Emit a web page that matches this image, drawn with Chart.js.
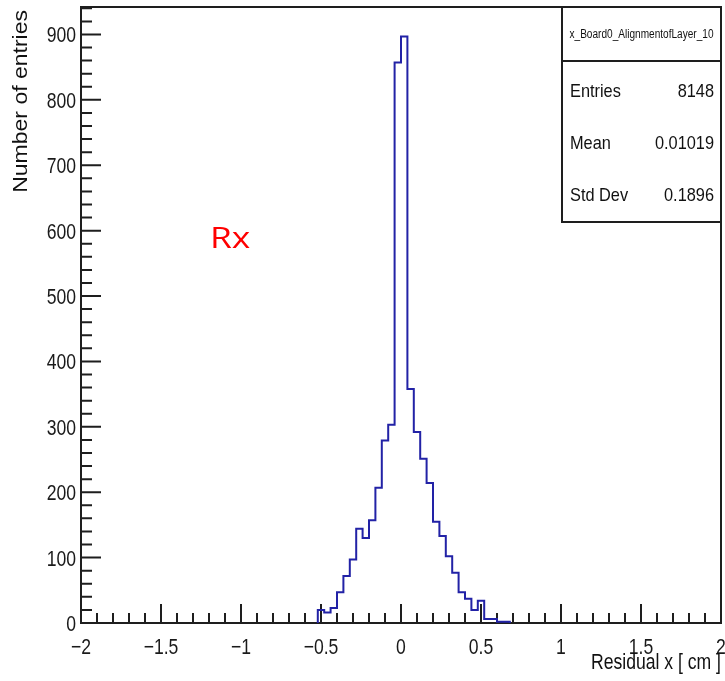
<!DOCTYPE html>
<html>
<head>
<meta charset="utf-8">
<script src="https://cdn.jsdelivr.net/npm/chart.js@4.4.1/dist/chart.umd.min.js"></script>
<style>
  html, body { margin: 0; padding: 0; background: #fff; }
</style>
</head>
<body>
<canvas id="residualChart" width="725" height="681"></canvas>
<script>
// histogram bins (width 0.04, first bin starts at -0.52)
const binLow = -0.52;
const binWidth = 0.04;
const binCounts = [20, 16, 23, 47, 72, 97, 144, 130, 157, 207, 279, 303, 857, 897,
                   358, 292, 251, 214, 155, 133, 102, 77, 47, 37, 20, 34, 6, 6, 2, 2];

const xTicks = [-2, -1.5, -1, -0.5, 0, 0.5, 1, 1.5, 2];
const yTicks = [0, 100, 200, 300, 400, 500, 600, 700, 800, 900];

const histName = 'x_Board0_AlignmentofLayer_10';
const statLabels = ['Entries', 'Mean', 'Std Dev'];
const statValues = ['8148', '0.01019', '0.1896'];

const sans = '"Liberation Sans", Arial, sans-serif';

// outline points: step up at each bin's left edge, back to 0 after the last bin
const points = [{ x: binLow, y: 0 }];
binCounts.forEach((c, i) => points.push({ x: binLow + i * binWidth, y: c }));
points.push({ x: binLow + binCounts.length * binWidth, y: 0 });

// text drawn a bit condensed, like the ROOT canvas export
function squeezed(ctx, text, x, y, align, sx) {
  ctx.save();
  ctx.translate(x, y);
  ctx.scale(sx, 1);
  ctx.textAlign = align;
  ctx.fillText(text, 0, 0);
  ctx.restore();
}

const fmt = v => String(v).replace('-', '\u2212');

// ROOT style frame with inward ticks, labels and stats box
const rootStyle = {
  id: 'rootStyle',
  beforeDatasetsDraw(chart) {
    const { ctx, chartArea: a, scales: { x, y } } = chart;
    ctx.save();
    ctx.strokeStyle = '#1e1e1e';
    ctx.lineWidth = 2;
    ctx.beginPath();
    for (let i = 0; i <= 40; i++) {
      const px = x.getPixelForValue(-2 + i * 0.1);
      const len = i % 5 === 0 ? 19 : 10;
      ctx.moveTo(px, a.bottom);
      ctx.lineTo(px, a.bottom - len);
    }
    for (let v = 0; v <= y.max; v += 20) {
      const py = y.getPixelForValue(v);
      const len = v % 100 === 0 ? 20 : 11;
      ctx.moveTo(a.left, py);
      ctx.lineTo(a.left + len, py);
    }
    ctx.stroke();
    ctx.strokeRect(a.left, a.top, a.right - a.left, a.bottom - a.top);

    // tick labels
    ctx.fillStyle = '#1a1a1a';
    ctx.font = '22px ' + sans;
    ctx.textBaseline = 'alphabetic';
    x.ticks.forEach(t => {
      squeezed(ctx, fmt(t.value), x.getPixelForValue(t.value), a.bottom + 31, 'center', 0.8);
    });
    y.ticks.forEach(t => {
      squeezed(ctx, fmt(t.value), a.left - 5, y.getPixelForValue(t.value) + 8, 'right', 0.8);
    });
    ctx.restore();
  },
  afterDraw(chart) {
    const { ctx, chartArea: a } = chart;
    ctx.save();

    // stats box
    const bx = a.right - 159, by = a.top, bw = 159, bh = 215;
    ctx.fillStyle = '#fff';
    ctx.fillRect(bx, by, bw, bh);
    ctx.strokeStyle = '#1e1e1e';
    ctx.lineWidth = 2;
    ctx.strokeRect(bx, by, bw, bh);
    ctx.beginPath();
    ctx.moveTo(bx, by + 54);
    ctx.lineTo(bx + bw, by + 54);
    ctx.stroke();

    ctx.fillStyle = '#111';
    ctx.textBaseline = 'alphabetic';
    ctx.font = '12px ' + sans;
    squeezed(ctx, histName, bx + bw / 2, by + 31, 'center', 0.84);

    ctx.font = '19px ' + sans;
    statLabels.forEach((lab, i) => {
      const ty = by + 90 + i * 52;
      squeezed(ctx, lab, bx + 8, ty, 'left', 0.86);
      squeezed(ctx, statValues[i], bx + bw - 7, ty, 'right', 0.86);
    });

    // axis titles
    ctx.font = '22px ' + sans;
    squeezed(ctx, 'Residual x [ cm ]', a.right, 669, 'right', 0.8);

    ctx.save();
    ctx.translate(27, 10);
    ctx.rotate(-Math.PI / 2);
    ctx.scale(1, 0.88);
    ctx.font = '23px ' + sans;
    ctx.textAlign = 'right';
    ctx.fillText('Number of entries', 0, 0);
    ctx.restore();

    // red label
    ctx.fillStyle = '#ff0000';
    ctx.font = '30px "Open Sans", sans-serif';
    squeezed(ctx, 'Rx', 210, 248, 'left', 1.18);

    ctx.restore();
  }
};

const ctx = document.getElementById('residualChart').getContext('2d');

new Chart(ctx, {
  type: 'line',
  data: {
    datasets: [{
      data: points,
      stepped: 'before',
      borderColor: '#2222a6',
      borderWidth: 2,
      pointRadius: 0,
      fill: false
    }]
  },
  options: {
    responsive: false,
    animation: false,
    layout: { padding: { top: 7, right: 4, left: 0, bottom: 0 } },
    plugins: { legend: { display: false }, tooltip: { enabled: false } },
    scales: {
      x: {
        type: 'linear',
        min: -2,
        max: 2,
        grid: { display: false },
        border: { display: false },
        ticks: { display: false },
        afterBuildTicks: s => { s.ticks = xTicks.map(v => ({ value: v })); },
        afterFit: s => { s.height = 58; s.paddingLeft = 0; s.paddingRight = 0; }
      },
      y: {
        type: 'linear',
        min: 0,
        max: 942,
        grid: { display: false },
        border: { display: false },
        ticks: { display: false },
        afterBuildTicks: s => { s.ticks = yTicks.map(v => ({ value: v })); },
        afterFit: s => { s.width = 81; s.paddingTop = 0; s.paddingBottom = 0; }
      }
    }
  },
  plugins: [rootStyle]
});
</script>
</body>
</html>
